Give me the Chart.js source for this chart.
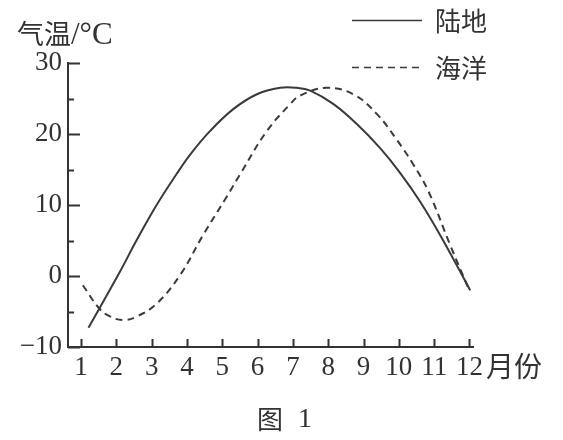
<!DOCTYPE html>
<html>
<head>
<meta charset="utf-8">
<script src="https://cdn.jsdelivr.net/npm/chart.js@4/dist/chart.umd.min.js"></script>
<style>
  html, body { margin: 0; padding: 0; background: #fff; }
  #wrap { width: 563px; height: 440px; }
</style>
</head>
<body>
<div id="wrap"><canvas id="c" width="563" height="440"></canvas></div>
<script>
// 月份刻度 & 气温刻度
const months = [1, 2, 3, 4, 5, 6, 7, 8, 9, 10, 11, 12];
const tempTicks = [-10, 0, 10, 20, 30];
const tempMinorTicks = [-5, 5, 15, 25];

// 陆地 (实线) — 读图估计
const landMonths = [1.21, 2.1, 2.58, 3.14, 3.71, 4.09, 4.65, 5.31, 5.98, 6.64, 7.1, 7.49, 8.15, 8.81, 9.47, 10.04, 10.6, 11.2, 12.02];
const landTemps  = [-7.3, 0.6, 5.1, 10.0, 14.4, 17.1, 20.4, 23.5, 25.6, 26.5, 26.5, 26.1, 24.2, 21.4, 18.0, 14.5, 10.5, 5.5, -2.0];

// 海洋 (虚线)
const seaMonths = [1.05, 1.52, 1.82, 2.2, 2.58, 3.14, 3.8, 4.46, 5.13, 5.5, 6.26, 6.92, 7.2, 7.96, 8.71, 9.38, 9.94, 10.41, 10.84, 11.45, 11.95];
const seaTemps  = [-1.3, -4.6, -5.7, -6.2, -5.7, -3.9, 0.1, 5.8, 11.2, 14.3, 20.4, 24.2, 25.4, 26.5, 25.6, 22.8, 19.2, 15.7, 11.9, 4.4, -1.5];

const INK = '#333';
const CJK = '"Noto Sans CJK SC", sans-serif';
const SERIF = '"Liberation Serif", "DejaVu Serif", serif';

const toPts = (xs, ys) => xs.map((x, i) => ({ x: x, y: ys[i] }));

// inward tick marks + texts + legend
const decor = {
    id: 'decor',
    afterDraw(chart) {
        const ctx = chart.ctx;
        const xs = chart.scales.x, ys = chart.scales.y;
        const area = chart.chartArea;
        ctx.save();
        ctx.strokeStyle = INK;
        ctx.lineWidth = 2;
        ctx.beginPath();
        tempTicks.forEach(v => {
            const y = Math.round(ys.getPixelForValue(v)) + 0.5;
            ctx.moveTo(area.left, y); ctx.lineTo(area.left + 12, y);
        });
        tempMinorTicks.forEach(v => {
            const y = Math.round(ys.getPixelForValue(v)) + 0.5;
            ctx.moveTo(area.left, y); ctx.lineTo(area.left + 6, y);
        });
        months.forEach(v => {
            const x = Math.round(xs.getPixelForValue(v)) + 0.5;
            ctx.moveTo(x, area.bottom); ctx.lineTo(x, area.bottom - 8);
        });
        ctx.stroke();

        ctx.fillStyle = INK;
        ctx.textBaseline = 'middle';
        ctx.textAlign = 'left';
        // y title
        ctx.font = '27px ' + CJK;
        ctx.fillText('气温', 17, 34);
        const w = ctx.measureText('气温').width;
        ctx.font = '31px ' + SERIF;
        ctx.fillText('/°C', 17 + w, 36);
        // x unit
        ctx.font = '28px ' + CJK;
        ctx.fillText('月份', 486, 366);
        // caption
        ctx.font = '26px ' + CJK;
        ctx.fillText('图', 257, 419);
        ctx.font = '28px ' + SERIF;
        ctx.fillText('1', 298, 420);

        // legend
        const rows = [20, 67];
        chart.data.datasets.forEach((ds, i) => {
            const y = rows[i];
            ctx.setLineDash(ds.borderDash || []);
            ctx.lineWidth = 1.6;
            ctx.strokeStyle = ds.borderColor;
            ctx.beginPath();
            ctx.moveTo(352, y + 0.5); ctx.lineTo(422, y + 0.5);
            ctx.stroke();
            ctx.setLineDash([]);
            ctx.font = '26px ' + CJK;
            ctx.fillStyle = INK;
            ctx.fillText(ds.label, 435, y + 1);
        });
        ctx.restore();
    }
};

new Chart(document.getElementById('c'), {
    type: 'line',
    data: {
        datasets: [
            {
                label: '陆地',
                data: toPts(landMonths, landTemps),
                borderColor: '#3a3a3a',
                borderWidth: 2,
                pointRadius: 0,
                tension: 0.4,
                fill: false
            },
            {
                label: '海洋',
                data: toPts(seaMonths, seaTemps),
                borderColor: '#3a3a3a',
                borderWidth: 2,
                borderDash: [7, 5],
                pointRadius: 0,
                tension: 0.4,
                fill: false
            }
        ]
    },
    options: {
        responsive: false,
        devicePixelRatio: 1,
        animation: false,
        layout: { padding: { left: 0, top: 63, right: 90, bottom: 0 } },
        plugins: { legend: { display: false }, tooltip: { enabled: false } },
        scales: {
            x: {
                type: 'linear',
                min: 0.63,
                max: 12.1,
                afterFit(s) { s.height = 93; },
                afterBuildTicks(s) { s.ticks = months.map(v => ({ value: v })); },
                grid: { display: false, drawTicks: false },
                border: { display: true, color: INK, width: 2 },
                ticks: {
                    padding: 5,
                    color: INK,
                    font: { family: SERIF, size: 27 },
                    maxRotation: 0,
                    autoSkip: false
                }
            },
            y: {
                min: -10,
                max: 30,
                afterFit(s) { s.width = 68; },
                afterBuildTicks(s) { s.ticks = tempTicks.map(v => ({ value: v })); },
                grid: { display: false, drawTicks: false },
                border: { display: true, color: INK, width: 2 },
                ticks: {
                    padding: 6,
                    color: INK,
                    font: { family: SERIF, size: 27 },
                    callback: v => String(v).replace('-', '−')
                }
            }
        }
    },
    plugins: [decor]
});
</script>
</body>
</html>
